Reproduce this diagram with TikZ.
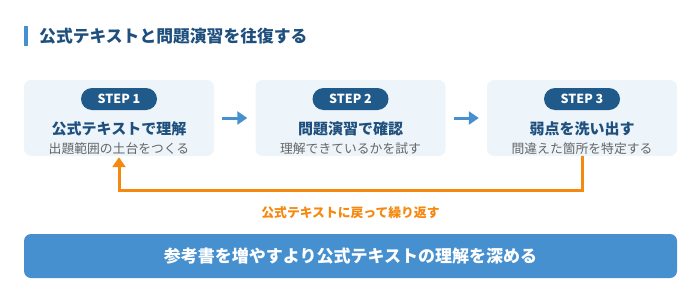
\documentclass[tikz,border=0pt]{standalone}
\usepackage{fontspec}
\setmainfont{Noto Sans CJK JP}
\usetikzlibrary{arrows.meta,positioning}
\definecolor{titleblue}{HTML}{1E4F7D}
\definecolor{accent}{HTML}{4690D0}
\definecolor{boxfill}{HTML}{EDF4FA}
\definecolor{pillblue}{HTML}{1F5A8A}
\definecolor{subgray}{HTML}{666666}
\definecolor{loopor}{HTML}{F5880F}
\tikzset{
  stepbox/.style={rectangle, rounded corners=7pt, fill=boxfill, minimum width=190pt, minimum height=76pt, inner sep=0pt},
  pill/.style={rectangle, rounded corners=11pt, fill=pillblue, minimum width=76pt, minimum height=22pt, inner sep=0pt, text=white, font=\fontsize{12.5}{14}\selectfont\bfseries},
  steptitle/.style={inner sep=0pt, text=titleblue, font=\fontsize{15}{17}\selectfont\bfseries},
  stepsub/.style={inner sep=0pt, text=subgray, font=\fontsize{12.8}{15}\selectfont},
  flow/.style={draw=accent, line width=3pt, -{Triangle[length=10pt,width=13pt]}, shorten >=8pt, shorten <=8pt},
  loopline/.style={draw=loopor, line width=3pt, -{Triangle[length=10pt,width=13pt]}},
}
\begin{document}
\begin{tikzpicture}[x=1pt,y=-1pt]
\useasboundingbox (0,0) rectangle (700,300);
% title
\fill[accent] (24,26) rectangle (28,46);
\node[anchor=west, inner sep=0pt, text=titleblue, font=\fontsize{16.8}{20}\selectfont\bfseries] (title) at (39,36) {公式テキストと問題演習を往復する};
% boxes
\node[stepbox] (b1) at (119,118) {};
\node[stepbox] (b2) at (350.5,118) {};
\node[stepbox] (b3) at (582,118) {};
\node[pill] (p1) at (119,99) {STEP 1};
\node[pill] (p2) at (350.5,99) {STEP 2};
\node[pill] (p3) at (582,99) {STEP 3};
\node[steptitle] (t1) at (119,129) {公式テキストで理解};
\node[steptitle] (t2) at (350.5,129) {問題演習で確認};
\node[steptitle] (t3) at (582,129) {弱点を洗い出す};
\node[stepsub] (s1) at (119,149) {出題範囲の土台をつくる};
\node[stepsub] (s2) at (350.5,149) {理解できているかを試す};
\node[stepsub] (s3) at (582,149) {間違えた箇所を特定する};
% flow arrows
\draw[flow] (b1.east) -- (b2.west);
\draw[flow] (b2.east) -- (b3.west);
% loop
\coordinate (lc) at (582,190);
\draw[loopline, shorten >=1pt] (b3.south) -- (lc) -| (b1.south);
\node[inner sep=0pt, text=loopor, font=\fontsize{12.8}{15}\selectfont\bfseries] (looplabel) at (350.5,213) {公式テキストに戻って繰り返す};
% bottom bar
\node[rectangle, rounded corners=7pt, fill=accent, minimum width=653pt, minimum height=44pt, inner sep=0pt, text=white, font=\fontsize{17}{20}\selectfont\bfseries] (bar) at (350.5,256) {参考書を増やすより公式テキストの理解を深める};
\end{tikzpicture}
\end{document}
